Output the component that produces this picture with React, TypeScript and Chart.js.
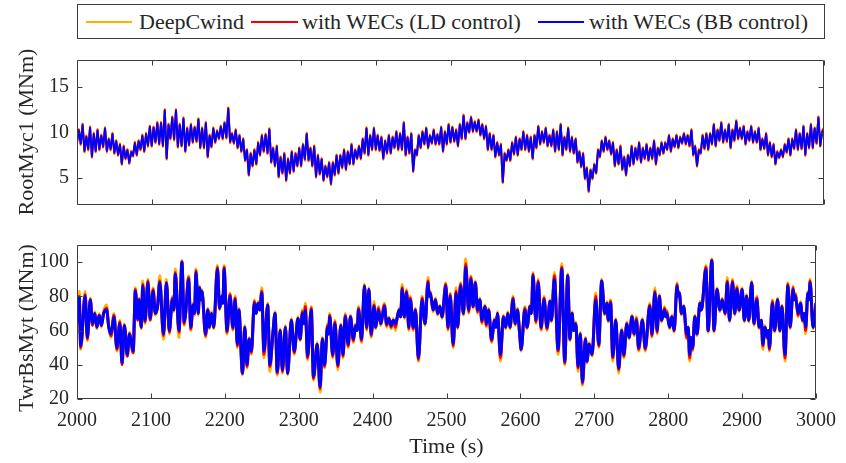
import React, { useEffect, useRef } from "react";
import { Chart, registerables } from "chart.js";

Chart.register(...registerables);

// ---------------- data ----------------
const xTicks = [2000, 2100, 2200, 2300, 2400, 2500, 2600, 2700, 2800, 2900, 3000];
const rootTicks = [5, 10, 15];
const twrTicks = [20, 40, 60, 80, 100];

const seriesNames = ["DeepCwind", "with WECs (LD control)", "with WECs (BB control)"];

// RootMyc1, sampled every 2.5 s from 2000 s
const rootStart = 2000;
const rootStep = 2.5;
const rootBB = [
  9.0, 10.2, 8.8, 10.8, 8.0, 9.5, 8.2, 10.5, 7.4, 9.8, 8.0, 10.2, 8.2, 9.6, 8.5, 10.4, 8.0, 9.2, 8.2, 9.8,
  7.8, 9.0, 7.6, 8.6, 6.6, 8.4, 7.2, 8.0, 6.7, 7.8, 7.5, 8.8, 7.6, 9.0, 8.2, 9.6, 8.0, 9.8, 8.6, 10.6,
  8.6, 10.5, 9.0, 11.0, 8.8, 11.0, 8.6, 12.4, 7.2, 10.8, 9.4, 11.6, 9.3, 12.4, 8.5, 10.8, 8.6, 11.5, 8.0, 10.4,
  8.7, 10.8, 9.0, 10.5, 9.1, 11.4, 8.4, 10.4, 8.4, 11.0, 7.4, 9.6, 8.5, 10.4, 9.0, 10.1, 9.4, 10.6, 9.4, 11.0,
  9.5, 12.6, 9.0, 9.8, 8.9, 10.2, 8.4, 9.6, 8.0, 9.2, 7.0, 8.0, 5.4, 7.6, 6.4, 8.0, 6.6, 8.8, 7.6, 9.6,
  8.0, 9.7, 7.8, 10.3, 6.8, 8.2, 6.4, 8.4, 5.2, 7.2, 5.6, 7.6, 4.8, 7.0, 5.6, 7.8, 5.8, 7.6, 6.4, 8.2,
  6.4, 8.6, 7.1, 9.8, 7.0, 8.2, 6.4, 8.4, 5.2, 7.4, 5.5, 7.0, 4.8, 6.2, 5.2, 6.6, 4.4, 6.6, 5.4, 7.4,
  5.6, 7.4, 6.2, 8.0, 6.0, 7.8, 6.6, 8.6, 6.6, 8.0, 7.2, 8.4, 7.2, 9.2, 7.8, 10.4, 7.6, 9.6, 8.2, 10.4,
  8.2, 9.6, 8.1, 9.4, 7.2, 9.0, 7.8, 9.6, 7.8, 9.4, 8.4, 10.0, 8.2, 9.8, 8.2, 11.0, 7.6, 9.4, 7.8, 9.8,
  5.8, 8.0, 7.6, 9.6, 8.4, 10.0, 8.8, 10.4, 8.4, 9.6, 8.9, 10.2, 8.8, 9.7, 8.8, 10.5, 8.0, 10.0, 8.8, 10.8,
  9.0, 10.5, 9.1, 10.2, 8.6, 10.8, 9.4, 11.8, 9.4, 11.0, 10.1, 11.6, 10.2, 11.1, 10.2, 11.3, 9.8, 10.8, 9.4, 10.6,
  8.2, 9.8, 8.2, 9.6, 7.4, 8.8, 7.6, 8.6, 4.6, 7.6, 7.0, 8.0, 7.0, 8.8, 7.7, 9.4, 7.6, 9.2, 8.2, 10.0,
  8.2, 9.6, 8.0, 9.4, 7.2, 9.6, 8.4, 10.6, 8.8, 10.0, 9.0, 10.4, 8.6, 9.6, 8.6, 10.2, 8.0, 10.0, 8.2, 10.8,
  7.6, 9.4, 8.2, 10.4, 8.0, 9.4, 7.8, 9.2, 6.8, 7.8, 6.3, 7.6, 5.0, 6.0, 3.6, 5.8, 5.0, 6.4, 5.6, 8.0,
  7.4, 9.0, 8.0, 9.4, 8.2, 9.0, 7.7, 8.8, 6.4, 8.0, 6.6, 8.4, 6.0, 7.2, 5.4, 7.4, 6.4, 8.4, 6.6, 8.2,
  7.1, 8.8, 6.8, 8.2, 7.2, 8.6, 7.0, 8.2, 7.2, 9.0, 6.6, 8.2, 7.6, 8.8, 7.8, 8.8, 8.2, 9.6, 8.0, 9.2,
  8.5, 9.6, 8.4, 9.4, 8.9, 9.8, 8.8, 9.6, 8.6, 10.2, 7.6, 8.4, 6.4, 8.0, 7.8, 9.6, 8.3, 9.8, 8.2, 9.8,
  8.8, 10.8, 8.6, 10.2, 9.2, 11.0, 9.0, 10.2, 9.1, 10.8, 8.4, 10.2, 9.2, 11.2, 9.4, 10.4, 9.4, 10.6, 8.8, 10.0,
  9.2, 10.6, 9.0, 10.0, 9.0, 10.4, 8.2, 9.2, 8.3, 9.8, 7.6, 8.8, 7.4, 8.6, 6.6, 7.8, 7.3, 8.0, 7.4, 8.6,
  7.9, 9.2, 7.6, 9.2, 8.3, 10.2, 8.2, 9.8, 8.3, 10.6, 7.6, 9.8, 8.4, 10.8, 8.4, 10.4, 8.9, 11.6, 8.6, 10.0,
  10.4,
];
const rootLD = [
  8.9, 10.3, 8.7, 10.9, 7.9, 9.6, 8.1, 10.6, 7.3, 9.9, 7.9, 10.3, 8.1, 9.7, 8.4, 10.5, 7.9, 9.3, 8.1, 9.9,
  7.7, 9.1, 7.5, 8.7, 6.5, 8.5, 7.1, 8.1, 6.6, 7.9, 7.4, 8.9, 7.5, 9.1, 8.1, 9.7, 7.9, 9.9, 8.5, 10.7,
  8.5, 10.6, 8.9, 11.1, 8.7, 11.1, 8.5, 12.5, 7.1, 10.9, 9.3, 11.7, 9.2, 12.5, 8.4, 10.9, 8.5, 11.6, 7.9, 10.5,
  8.6, 10.9, 8.9, 10.6, 9.0, 11.5, 8.3, 10.5, 8.3, 11.1, 7.3, 9.7, 8.4, 10.5, 8.9, 10.2, 9.3, 10.7, 9.3, 11.1,
  9.4, 12.7, 8.9, 9.9, 8.8, 10.3, 8.3, 9.7, 7.9, 9.3, 6.9, 8.1, 5.3, 7.7, 6.3, 8.1, 6.5, 8.9, 7.5, 9.7,
  7.9, 9.8, 7.7, 10.4, 6.7, 8.3, 6.3, 8.5, 5.1, 7.3, 5.5, 7.7, 4.7, 7.1, 5.5, 7.9, 5.7, 7.7, 6.3, 8.3,
  6.3, 8.7, 7.0, 9.9, 6.9, 8.3, 6.3, 8.5, 5.1, 7.5, 5.4, 7.1, 4.7, 6.3, 5.1, 6.7, 4.3, 6.7, 5.3, 7.5,
  5.5, 7.5, 6.1, 8.1, 5.9, 7.9, 6.5, 8.7, 6.5, 8.1, 7.1, 8.5, 7.1, 9.3, 7.7, 10.5, 7.5, 9.7, 8.1, 10.5,
  8.1, 9.7, 8.0, 9.5, 7.1, 9.1, 7.7, 9.7, 7.7, 9.5, 8.3, 10.1, 8.1, 9.9, 8.1, 11.1, 7.5, 9.5, 7.7, 9.9,
  5.7, 8.1, 7.5, 9.7, 8.3, 10.1, 8.7, 10.5, 8.3, 9.7, 8.8, 10.3, 8.7, 9.8, 8.7, 10.6, 7.9, 10.1, 8.7, 10.9,
  8.9, 10.6, 9.0, 10.3, 8.5, 10.9, 9.3, 11.9, 9.3, 11.1, 10.0, 11.7, 10.1, 11.2, 10.1, 11.4, 9.7, 10.9, 9.3, 10.7,
  8.1, 9.9, 8.1, 9.7, 7.3, 8.9, 7.5, 8.7, 4.5, 7.7, 6.9, 8.1, 6.9, 8.9, 7.6, 9.5, 7.5, 9.3, 8.1, 10.1,
  8.1, 9.7, 7.9, 9.5, 7.1, 9.7, 8.3, 10.7, 8.7, 10.1, 8.9, 10.5, 8.5, 9.7, 8.5, 10.3, 7.9, 10.1, 8.1, 10.9,
  7.5, 9.5, 8.1, 10.5, 7.9, 9.5, 7.7, 9.3, 6.7, 7.9, 6.2, 7.7, 4.9, 6.1, 3.5, 5.9, 4.9, 6.5, 5.5, 8.1,
  7.3, 9.1, 7.9, 9.5, 8.1, 9.1, 7.6, 8.9, 6.3, 8.1, 6.5, 8.5, 5.9, 7.3, 5.3, 7.5, 6.3, 8.5, 6.5, 8.3,
  7.0, 8.9, 6.7, 8.3, 7.1, 8.7, 6.9, 8.3, 7.1, 9.1, 6.5, 8.3, 7.5, 8.9, 7.7, 8.9, 8.1, 9.7, 7.9, 9.3,
  8.4, 9.7, 8.3, 9.5, 8.8, 9.9, 8.7, 9.7, 8.5, 10.3, 7.5, 8.5, 6.3, 8.1, 7.7, 9.7, 8.2, 9.9, 8.1, 9.9,
  8.7, 10.9, 8.5, 10.3, 9.1, 11.1, 8.9, 10.3, 9.0, 10.9, 8.3, 10.3, 9.1, 11.3, 9.3, 10.5, 9.3, 10.7, 8.7, 10.1,
  9.1, 10.7, 8.9, 10.1, 8.9, 10.5, 8.1, 9.3, 8.2, 9.9, 7.5, 8.9, 7.3, 8.7, 6.5, 7.9, 7.2, 8.1, 7.3, 8.7,
  7.8, 9.3, 7.5, 9.3, 8.2, 10.3, 8.1, 9.9, 8.2, 10.7, 7.5, 9.9, 8.3, 10.9, 8.3, 10.5, 8.8, 11.7, 8.5, 10.1,
  10.5,
];
const rootDeep = [
  8.8, 10.4, 8.6, 11.0, 7.8, 9.7, 8.0, 10.7, 7.2, 10.0, 7.8, 10.4, 8.0, 9.8, 8.3, 10.6, 7.8, 9.4, 8.0, 10.0,
  7.6, 9.2, 7.4, 8.8, 6.4, 8.6, 7.0, 8.2, 6.5, 8.0, 7.3, 9.0, 7.4, 9.2, 8.0, 9.8, 7.8, 10.0, 8.4, 10.8,
  8.4, 10.7, 8.8, 11.2, 8.6, 11.2, 8.4, 12.6, 7.0, 11.0, 9.2, 11.8, 9.1, 12.6, 8.3, 11.0, 8.4, 11.7, 7.8, 10.6,
  8.5, 11.0, 8.8, 10.7, 8.9, 11.6, 8.2, 10.6, 8.2, 11.2, 7.2, 9.8, 8.3, 10.6, 8.8, 10.3, 9.2, 10.8, 9.2, 11.2,
  9.3, 12.8, 8.8, 10.0, 8.7, 10.4, 8.2, 9.8, 7.8, 9.4, 6.8, 8.2, 5.2, 7.8, 6.2, 8.2, 6.4, 9.0, 7.4, 9.8,
  7.8, 9.9, 7.6, 10.5, 6.6, 8.4, 6.2, 8.6, 5.0, 7.4, 5.4, 7.8, 4.6, 7.2, 5.4, 8.0, 5.6, 7.8, 6.2, 8.4,
  6.2, 8.8, 6.9, 10.0, 6.8, 8.4, 6.2, 8.6, 5.0, 7.6, 5.3, 7.2, 4.6, 6.4, 5.0, 6.8, 4.2, 6.8, 5.2, 7.6,
  5.4, 7.6, 6.0, 8.2, 5.8, 8.0, 6.4, 8.8, 6.4, 8.2, 7.0, 8.6, 7.0, 9.4, 7.6, 10.6, 7.4, 9.8, 8.0, 10.6,
  8.0, 9.8, 7.9, 9.6, 7.0, 9.2, 7.6, 9.8, 7.6, 9.6, 8.2, 10.2, 8.0, 10.0, 8.0, 11.2, 7.4, 9.6, 7.6, 10.0,
  5.6, 8.2, 7.4, 9.8, 8.2, 10.2, 8.6, 10.6, 8.2, 9.8, 8.7, 10.4, 8.6, 9.9, 8.6, 10.7, 7.8, 10.2, 8.6, 11.0,
  8.8, 10.7, 8.9, 10.4, 8.4, 11.0, 9.2, 12.0, 9.2, 11.2, 9.9, 11.8, 10.0, 11.3, 10.0, 11.5, 9.6, 11.0, 9.2, 10.8,
  8.0, 10.0, 8.0, 9.8, 7.2, 9.0, 7.4, 8.8, 4.4, 7.8, 6.8, 8.2, 6.8, 9.0, 7.5, 9.6, 7.4, 9.4, 8.0, 10.2,
  8.0, 9.8, 7.8, 9.6, 7.0, 9.8, 8.2, 10.8, 8.6, 10.2, 8.8, 10.6, 8.4, 9.8, 8.4, 10.4, 7.8, 10.2, 8.0, 11.0,
  7.4, 9.6, 8.0, 10.6, 7.8, 9.6, 7.6, 9.4, 6.6, 8.0, 6.1, 7.8, 4.8, 6.2, 3.4, 6.0, 4.8, 6.6, 5.4, 8.2,
  7.2, 9.2, 7.8, 9.6, 8.0, 9.2, 7.5, 9.0, 6.2, 8.2, 6.4, 8.6, 5.8, 7.4, 5.2, 7.6, 6.2, 8.6, 6.4, 8.4,
  6.9, 9.0, 6.6, 8.4, 7.0, 8.8, 6.8, 8.4, 7.0, 9.2, 6.4, 8.4, 7.4, 9.0, 7.6, 9.0, 8.0, 9.8, 7.8, 9.4,
  8.3, 9.8, 8.2, 9.6, 8.7, 10.0, 8.6, 9.8, 8.4, 10.4, 7.4, 8.6, 6.2, 8.2, 7.6, 9.8, 8.1, 10.0, 8.0, 10.0,
  8.6, 11.0, 8.4, 10.4, 9.0, 11.2, 8.8, 10.4, 8.9, 11.0, 8.2, 10.4, 9.0, 11.4, 9.2, 10.6, 9.2, 10.8, 8.6, 10.2,
  9.0, 10.8, 8.8, 10.2, 8.8, 10.6, 8.0, 9.4, 8.1, 10.0, 7.4, 9.0, 7.2, 8.8, 6.4, 8.0, 7.1, 8.2, 7.2, 8.8,
  7.7, 9.4, 7.4, 9.4, 8.1, 10.4, 8.0, 10.0, 8.1, 10.8, 7.4, 10.0, 8.2, 11.0, 8.2, 10.6, 8.7, 11.8, 8.4, 10.2,
  10.6,
];

// TwrBsMyt, read at turning points
const twrTime = [
  2000, 2003, 2005, 2011, 2014, 2018, 2021, 2024, 2027, 2030,
  2033, 2036, 2040, 2043, 2046, 2050, 2054, 2058, 2061, 2064,
  2068, 2071, 2076, 2079, 2082, 2084, 2087, 2089, 2092, 2096,
  2099, 2103, 2106, 2109, 2112, 2117, 2121, 2125, 2129, 2131,
  2133, 2138, 2142, 2145, 2147, 2151, 2154, 2157, 2159, 2161,
  2164, 2166, 2167.5, 2169, 2174, 2177, 2179, 2182, 2185, 2190,
  2193, 2196, 2197.5, 2199, 2203, 2207, 2211, 2214, 2217, 2219,
  2224, 2227, 2230, 2233, 2236, 2240, 2242.5, 2245, 2247.5, 2250,
  2253, 2258, 2261, 2265, 2268, 2271, 2275, 2278, 2282, 2285,
  2290, 2294, 2299, 2302, 2305, 2307, 2309, 2312, 2317, 2320,
  2325, 2329, 2332, 2335, 2339, 2340.5, 2342, 2346, 2349, 2353,
  2357, 2360, 2363, 2367, 2370, 2374, 2377, 2379, 2381, 2385,
  2389, 2392, 2395, 2398, 2402, 2404, 2408, 2411, 2416, 2419,
  2422, 2425, 2428, 2431, 2433, 2436, 2438, 2440, 2443, 2446,
  2449, 2451, 2455, 2458, 2462, 2467, 2471, 2475, 2476.5, 2478,
  2482, 2485, 2488, 2491, 2494, 2499, 2502, 2505, 2509, 2513,
  2515, 2519, 2523, 2526, 2530, 2533, 2536, 2539, 2542, 2545,
  2548, 2552, 2554, 2557, 2561, 2565, 2567, 2569, 2573, 2577,
  2580, 2583, 2586, 2590, 2593, 2596, 2599, 2601, 2606, 2609,
  2613, 2615, 2617, 2621, 2624, 2628, 2632, 2636, 2640, 2642,
  2646, 2651, 2656, 2660, 2664, 2667, 2670, 2672, 2675, 2678,
  2681, 2684, 2688, 2690, 2693, 2697, 2702, 2706, 2710, 2714,
  2717, 2719, 2722, 2725, 2729, 2733, 2737, 2740, 2744, 2747,
  2751, 2754, 2757, 2760, 2765, 2769, 2775, 2778, 2782, 2785,
  2788, 2791, 2795, 2796.5, 2798, 2802, 2805, 2808, 2812, 2813.5,
  2815, 2818, 2821, 2825, 2827, 2829, 2831, 2833, 2836, 2839,
  2843, 2844.5, 2846, 2851, 2854, 2859, 2862, 2866, 2870, 2873,
  2877, 2880, 2883, 2887, 2890, 2893, 2896, 2900, 2903, 2906,
  2909, 2913, 2916, 2920, 2923, 2926, 2928, 2931, 2934, 2935.5,
  2937, 2941, 2944, 2948, 2951, 2954, 2958, 2962, 2965, 2969,
  2970.5, 2972, 2976, 2979, 2982, 2984, 2986, 2989, 2990.5, 2992,
  2996, 3000,
];
const twrBB = [
  65, 79, 51, 80, 56, 78, 64, 70, 62, 69,
  63, 70, 72, 62, 58, 68, 50, 64, 41, 63,
  46, 58, 48, 83, 67, 78, 62, 86, 66, 88,
  67, 83, 70, 74, 88, 58, 88, 60, 78, 72,
  93, 60, 100, 65, 70, 90, 62, 75, 70, 94,
  70, 85, 78, 83, 58, 72, 62, 70, 62, 96,
  73, 80, 76, 96, 60, 80, 62, 78, 52, 72,
  35, 62, 40, 55, 48, 76, 70, 76, 72, 82,
  48, 75, 40, 58, 70, 36, 60, 37, 62, 35,
  66, 48, 67, 55, 70, 64, 72, 45, 72, 33,
  52, 27, 55, 40, 62, 58, 68, 46, 64, 40,
  63, 46, 68, 52, 68, 55, 63, 60, 72, 55,
  86, 62, 84, 58, 74, 62, 72, 64, 74, 64,
  67, 63, 66, 64, 67, 72, 68, 84, 68, 82,
  62, 78, 62, 72, 44, 78, 64, 88, 80, 82,
  72, 78, 70, 74, 68, 86, 62, 80, 52, 82,
  62, 86, 70, 97, 72, 90, 74, 88, 72, 78,
  66, 74, 64, 72, 55, 66, 62, 70, 46, 68,
  62, 70, 62, 78, 64, 72, 58, 49, 72, 62,
  74, 70, 92, 66, 88, 62, 78, 62, 77, 66,
  90, 49, 96, 42, 92, 55, 70, 60, 64, 39,
  58, 30, 55, 42, 52, 46, 78, 52, 89, 70,
  76, 66, 76, 45, 66, 38, 60, 46, 64, 56,
  68, 58, 66, 50, 66, 50, 74, 58, 82, 60,
  80, 66, 72, 68, 70, 62, 68, 60, 86, 80,
  82, 70, 74, 58, 62, 46, 56, 50, 68, 58,
  76, 72, 74, 96, 60, 101, 60, 84, 72, 78,
  70, 88, 66, 88, 70, 84, 72, 84, 66, 80,
  66, 88, 64, 78, 62, 66, 52, 62, 56, 60,
  50, 76, 60, 78, 60, 74, 46, 86, 62, 84,
  78, 80, 70, 76, 66, 70, 62, 82, 78, 88,
  62, 76,
];
const twrLD = [
  64, 80, 50, 81, 55, 78, 63, 70, 62, 69,
  63, 70, 73, 62, 57, 69, 49, 65, 40, 63,
  45, 58, 47, 84, 66, 78, 62, 87, 65, 89,
  66, 84, 70, 74, 89, 57, 88, 59, 79, 72,
  94, 59, 100, 64, 70, 91, 61, 75, 70, 95,
  70, 85, 78, 83, 57, 72, 62, 70, 62, 97,
  73, 80, 76, 97, 59, 81, 61, 79, 51, 72,
  35, 62, 39, 55, 47, 77, 70, 76, 72, 83,
  46, 75, 39, 58, 70, 35, 60, 36, 62, 35,
  66, 47, 67, 55, 71, 64, 74, 44, 73, 32,
  52, 26, 55, 39, 63, 58, 69, 45, 65, 39,
  63, 45, 69, 51, 68, 54, 63, 60, 73, 54,
  86, 61, 84, 57, 75, 62, 73, 64, 75, 63,
  67, 62, 66, 62, 67, 72, 68, 85, 68, 83,
  61, 79, 61, 72, 43, 79, 64, 89, 80, 82,
  72, 78, 70, 74, 68, 87, 61, 81, 51, 83,
  62, 87, 70, 99, 71, 91, 74, 88, 71, 78,
  65, 74, 63, 72, 54, 66, 62, 70, 44, 68,
  62, 70, 62, 79, 64, 72, 58, 49, 73, 62,
  74, 70, 93, 65, 89, 61, 79, 61, 77, 66,
  92, 48, 97, 41, 92, 55, 70, 60, 64, 38,
  58, 29, 55, 42, 52, 46, 80, 51, 89, 70,
  76, 66, 77, 44, 66, 37, 60, 45, 64, 56,
  68, 58, 67, 49, 66, 49, 75, 57, 83, 59,
  80, 66, 73, 68, 71, 62, 68, 60, 87, 80,
  82, 70, 74, 56, 62, 44, 56, 49, 68, 58,
  76, 72, 74, 97, 60, 101, 60, 84, 72, 78,
  70, 89, 66, 89, 70, 85, 72, 84, 66, 80,
  66, 88, 64, 79, 62, 66, 51, 62, 56, 60,
  49, 77, 60, 78, 60, 74, 44, 87, 62, 85,
  78, 81, 69, 76, 66, 70, 60, 82, 78, 89,
  62, 76,
];
const twrDeep = [
  62, 83, 49, 83, 54, 79, 63, 71, 61, 70,
  62, 71, 75, 62, 56, 70, 48, 66, 40, 64,
  45, 59, 47, 85, 66, 79, 61, 89, 64, 90,
  66, 85, 69, 74, 92, 55, 90, 58, 80, 71,
  96, 56, 101, 63, 70, 92, 60, 76, 69, 96,
  69, 86, 78, 84, 56, 73, 61, 71, 61, 98,
  72, 81, 76, 98, 58, 82, 60, 80, 50, 73,
  34, 63, 38, 56, 46, 78, 70, 77, 72, 85,
  44, 76, 36, 58, 71, 34, 61, 35, 63, 34,
  67, 46, 68, 54, 72, 64, 76, 43, 74, 31,
  53, 24, 56, 38, 64, 58, 70, 44, 66, 37,
  64, 44, 70, 50, 69, 53, 64, 60, 74, 53,
  87, 60, 85, 56, 77, 61, 74, 63, 76, 62,
  68, 61, 67, 60, 67, 73, 68, 87, 67, 84,
  60, 80, 60, 73, 42, 80, 63, 91, 80, 83,
  71, 79, 69, 75, 67, 88, 60, 82, 50, 85,
  61, 88, 69, 102, 70, 92, 73, 89, 70, 79,
  64, 75, 62, 73, 53, 67, 62, 71, 42, 69,
  61, 71, 61, 80, 63, 73, 58, 48, 74, 61,
  75, 70, 94, 64, 90, 60, 80, 60, 78, 65,
  94, 46, 99, 40, 93, 54, 71, 60, 65, 36,
  59, 28, 56, 41, 53, 45, 82, 50, 90, 69,
  77, 65, 78, 42, 67, 35, 61, 44, 65, 55,
  69, 57, 68, 48, 67, 48, 76, 56, 85, 58,
  81, 65, 74, 68, 72, 61, 69, 59, 88, 80,
  83, 69, 75, 55, 62, 42, 56, 48, 69, 57,
  77, 72, 75, 98, 59, 102, 59, 85, 71, 79,
  69, 91, 65, 90, 69, 86, 71, 85, 65, 81,
  65, 89, 63, 80, 61, 66, 49, 63, 55, 60,
  48, 78, 59, 79, 59, 75, 42, 88, 61, 86,
  78, 82, 68, 77, 65, 70, 58, 83, 78, 90,
  61, 77,
];

// ---------------- styles ----------------
const FONT = "'Liberation Serif', 'Times New Roman', serif";
const TEXT = "#262626";
const FRAME = "#3c3c3c";
const C_DEEP = "#FFB000";
const C_LD = "#FF0000";
const C_BB = "#0000FF";
const seriesColors = [C_DEEP, C_LD, C_BB];

const rootTime = rootBB.map((_, i) => rootStart + i * rootStep);
const pts = (xs: number[], ys: number[]) =>
  xs.map((x, i) => ({ x, y: ys[i] })).filter((p) => p.y !== undefined);

const framePlugin = {
  id: "matlabFrame",
  afterDraw(chart: any) {
    const { ctx, chartArea: a, scales } = chart;
    const l = Math.round(a.left) + 0.5;
    const r = Math.round(a.right) - 0.5;
    const t = Math.round(a.top) + 0.5;
    const b = Math.round(a.bottom) - 0.5;
    ctx.save();
    ctx.strokeStyle = FRAME;
    ctx.lineWidth = 1;
    ctx.beginPath();
    ctx.rect(l, t, r - l, b - t);
    const tl = 5;
    for (const v of xTicks) {
      const px = Math.round(scales.x.getPixelForValue(v)) + 0.5;
      ctx.moveTo(px, b);
      ctx.lineTo(px, b - tl);
      ctx.moveTo(px, t);
      ctx.lineTo(px, t + tl);
    }
    for (const tk of scales.y.ticks) {
      const py = Math.round(scales.y.getPixelForValue(tk.value)) + 0.5;
      ctx.moveTo(l, py);
      ctx.lineTo(l + tl, py);
      ctx.moveTo(r, py);
      ctx.lineTo(r - tl, py);
    }
    ctx.stroke();
    ctx.restore();
  },
};

function makeConfig(kind: "root" | "twr"): any {
  const isRoot = kind === "root";
  const datasets = isRoot
    ? [
        { label: seriesNames[2], data: pts(rootTime, rootBB), borderColor: C_BB },
        { label: seriesNames[1], data: pts(rootTime, rootLD), borderColor: C_LD },
        { label: seriesNames[0], data: pts(rootTime, rootDeep), borderColor: C_DEEP },
      ]
    : [
        { label: seriesNames[2], data: pts(twrTime, twrBB), borderColor: C_BB },
        { label: seriesNames[1], data: pts(twrTime, twrLD), borderColor: C_LD },
        { label: seriesNames[0], data: pts(twrTime, twrDeep), borderColor: C_DEEP },
      ];
  const yTicks = isRoot ? rootTicks : twrTicks;
  return {
    type: "line",
    data: {
      datasets: datasets.map((d) => ({
        ...d,
        borderWidth: isRoot ? 2 : 3,
        pointRadius: 0,
        fill: false,
        tension: 0,
        cubicInterpolationMode: isRoot ? "default" : "monotone",
        borderJoinStyle: "round",
      })),
    },
    options: {
      responsive: false,
      animation: false,
      events: [],
      layout: { padding: { top: 10, right: 22, left: 0, bottom: 0 } },
      plugins: { legend: { display: false }, tooltip: { enabled: false } },
      scales: {
        x: {
          type: "linear",
          min: 2000,
          max: 3000,
          grid: { display: false, drawTicks: false },
          border: { display: false },
          afterBuildTicks: (s: any) => {
            s.ticks = xTicks.map((v) => ({ value: v }));
          },
          afterFit: (s: any) => {
            s.height = isRoot ? 12 : 64;
          },
          ticks: {
            display: !isRoot,
            autoSkip: false,
            maxRotation: 0,
            padding: 10,
            color: TEXT,
            font: { family: FONT, size: 20 },
            callback: (v: any) => String(v),
          },
          title: {
            display: !isRoot,
            text: "Time (s)",
            color: TEXT,
            font: { family: FONT, size: 22 },
            padding: { top: 0, bottom: 3 },
          },
        },
        y: {
          type: "linear",
          min: isRoot ? 2 : 20,
          max: isRoot ? 18 : 110,
          grid: { display: false, drawTicks: false },
          border: { display: false },
          afterBuildTicks: (s: any) => {
            s.ticks = yTicks.map((v) => ({ value: v }));
          },
          afterFit: (s: any) => {
            s.width = 77;
          },
          ticks: {
            padding: 8,
            color: TEXT,
            font: { family: FONT, size: 20 },
            callback: (v: any) => String(v),
          },
        },
      },
    },
    plugins: [framePlugin],
  };
}

function Panel({ kind, top, height }: { kind: "root" | "twr"; top: number; height: number }) {
  const ref = useRef<HTMLCanvasElement | null>(null);
  useEffect(() => {
    if (!ref.current) return;
    const chart = new Chart(ref.current, makeConfig(kind));
    return () => chart.destroy();
  }, [kind]);
  return (
    <canvas
      ref={ref}
      width={846}
      height={height}
      style={{ position: "absolute", left: 0, top, width: 846, height }}
    />
  );
}

const yTitleStyle = (cy: number): React.CSSProperties => ({
  position: "absolute",
  left: 26,
  top: cy,
  transform: "translate(-50%, -50%) rotate(-90deg)",
  whiteSpace: "nowrap",
  fontFamily: FONT,
  fontSize: 22,
  color: TEXT,
  lineHeight: "24px",
});

export default function App() {
  const legendItems = [
    { lineL: 86, lineR: 132, textL: 139 },
    { lineL: 251, lineR: 298, textL: 302 },
    { lineL: 538, lineR: 584, textL: 589 },
  ];
  const boxTop = 4;
  const boxH = 35;
  return (
    <div
      style={{
        position: "fixed",
        left: 0,
        top: 0,
        width: 846,
        height: 463,
        background: "#fff",
        overflow: "hidden",
      }}
    >
      <div
        style={{
          position: "absolute",
          left: 77,
          top: boxTop,
          width: 748,
          height: boxH,
          boxSizing: "border-box",
          border: `1px solid ${FRAME}`,
          background: "#fff",
        }}
      />
      {legendItems.map((it, i) => (
        <React.Fragment key={i}>
          <div
            style={{
              position: "absolute",
              left: it.lineL,
              top: boxTop + boxH / 2 - 1,
              width: it.lineR - it.lineL,
              height: 2,
              background: seriesColors[i],
            }}
          />
          <div
            style={{
              position: "absolute",
              left: it.textL,
              top: boxTop,
              height: boxH,
              lineHeight: `${boxH}px`,
              fontFamily: FONT,
              fontSize: 22,
              color: TEXT,
              whiteSpace: "nowrap",
            }}
          >
            {seriesNames[i]}
          </div>
        </React.Fragment>
      ))}
      <Panel kind="root" top={40} height={185} />
      <Panel kind="twr" top={225} height={238} />
      <div style={yTitleStyle(132)}>RootMyc1 (MNm)</div>
      <div style={yTitleStyle(328)}>TwrBsMyt (MNm)</div>
    </div>
  );
}
